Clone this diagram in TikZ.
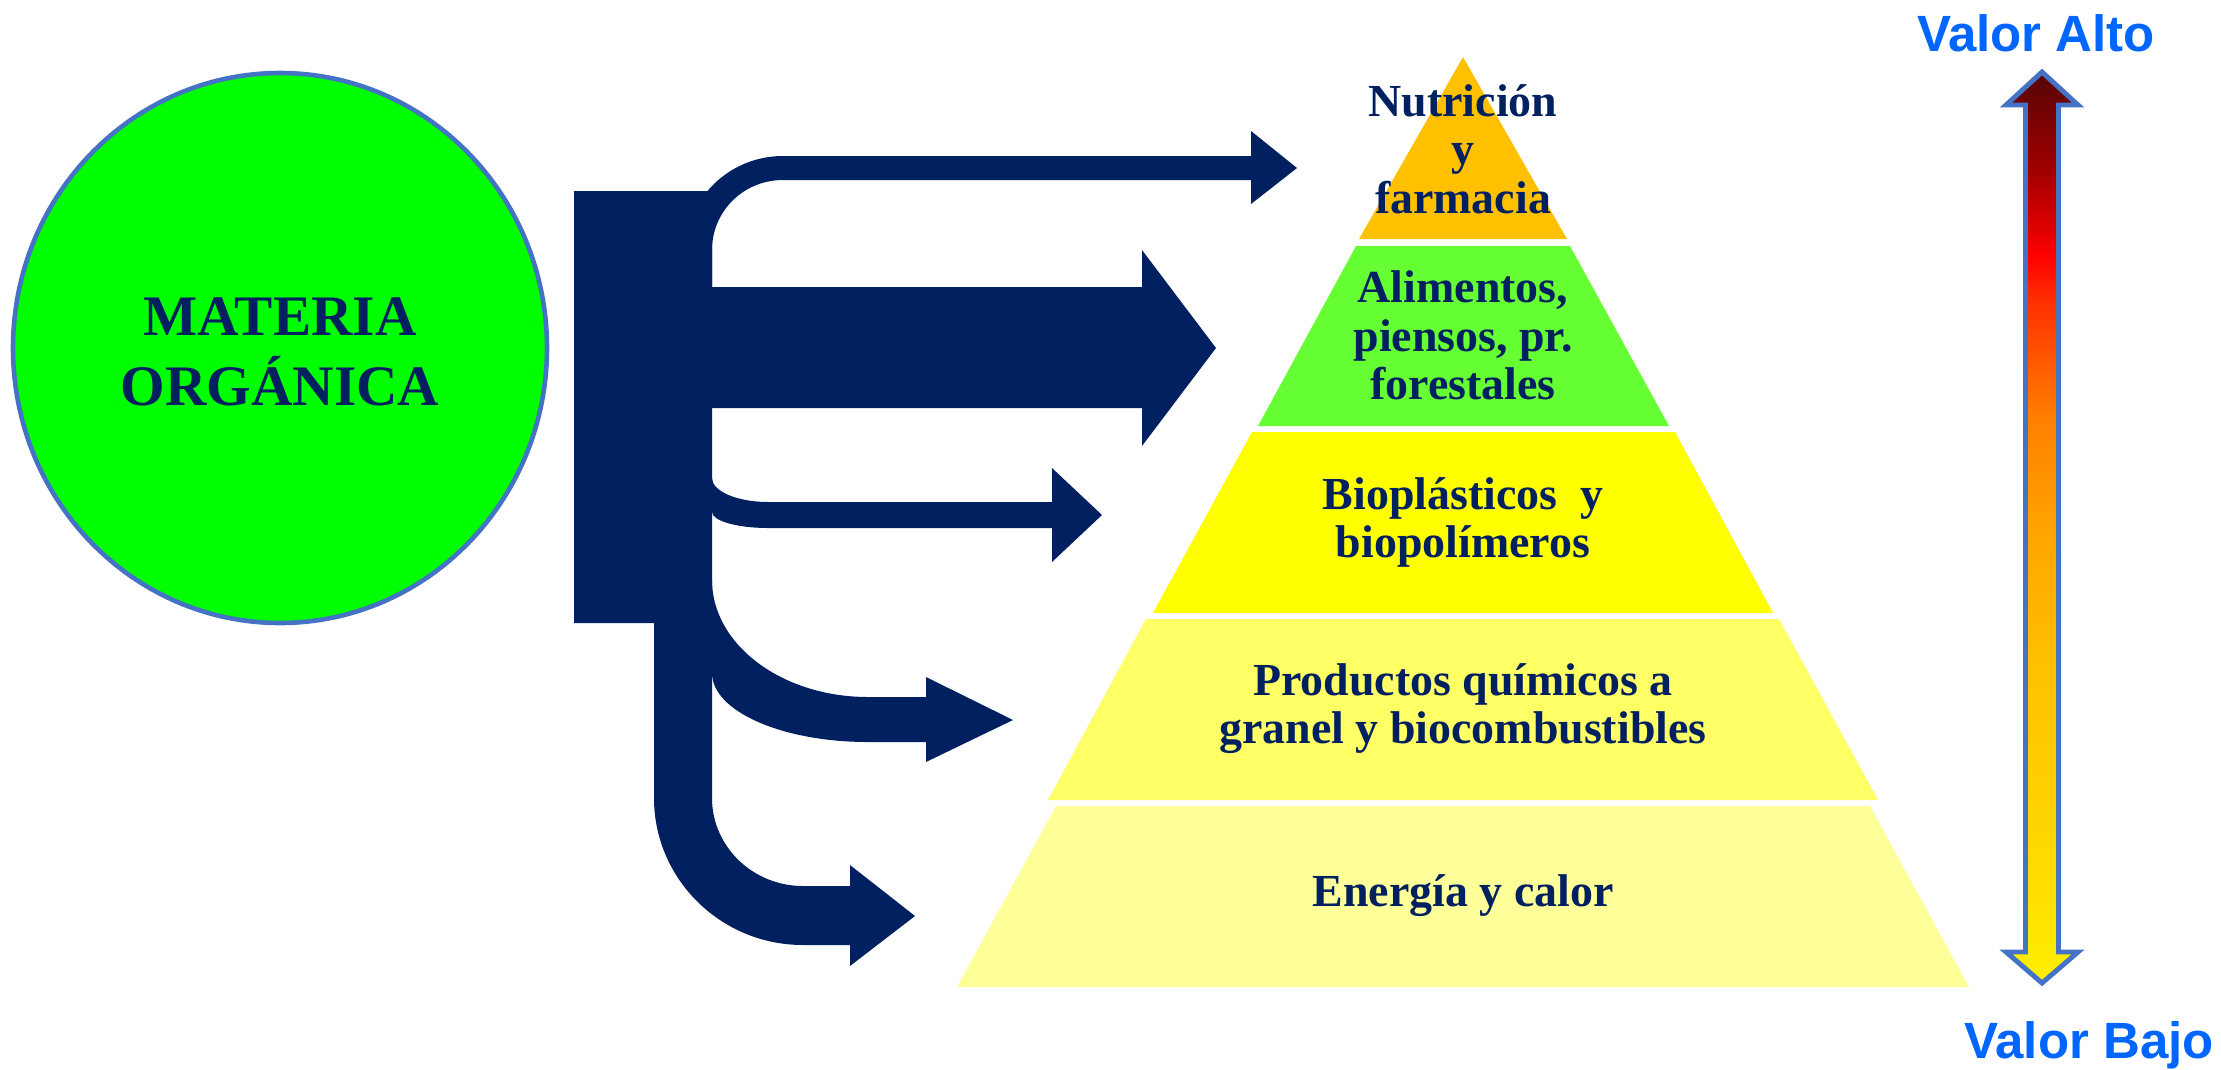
\documentclass[tikz,border=0pt]{standalone}
\usepackage{fontspec}
\setmainfont{Liberation Serif}
\newfontfamily\valorfont{Liberation Sans}
\usetikzlibrary{positioning}
\definecolor{navy}{HTML}{002060}
\definecolor{edgeblue}{HTML}{4472C4}
\definecolor{matgreen}{HTML}{00FF00}
\definecolor{tierA}{HTML}{FFC000}
\definecolor{tierB}{HTML}{66FF33}
\definecolor{tierC}{HTML}{FFFF00}
\definecolor{tierD}{HTML}{FFFF66}
\definecolor{tierE}{HTML}{FFFF99}
\definecolor{valorblue}{HTML}{0066FF}
\definecolor{vdark}{HTML}{560505}
\definecolor{vdeep}{HTML}{A00000}
\definecolor{vred}{HTML}{FF0000}
\definecolor{vscar}{HTML}{FF3000}
\definecolor{vorange}{HTML}{FF7F00}
\definecolor{vamber}{HTML}{FFA500}
\definecolor{vgold}{HTML}{FFC000}
\definecolor{vsun}{HTML}{FFCC00}
\definecolor{vlemon}{HTML}{FFDF00}
\definecolor{vyellow}{HTML}{FFF000}
\pgfdeclareverticalshading{valor}{100bp}{color(0bp)=(vyellow); color(25bp)=(vyellow); color(29.7bp)=(vlemon); color(37bp)=(vsun); color(42.4bp)=(vgold); color(49.7bp)=(vamber); color(56bp)=(vorange); color(62.4bp)=(vscar); color(64.9bp)=(vred); color(69.6bp)=(vdeep); color(75bp)=(vdark); color(100bp)=(vdark)}
\tikzstyle{flow}=[fill=navy]
\tikzstyle{materia}=[text=navy,font=\bfseries\fontsize{16.3}{19.8}\selectfont,align=center]
\tikzstyle{tiertext}=[text=navy,font=\bfseries\fontsize{13.05}{13.75}\selectfont,align=center]
\tikzstyle{valortext}=[text=valorblue,font=\valorfont\bfseries\fontsize{14.5}{17}\selectfont,anchor=base]
\tikzstyle{scale arrow}=[shading=valor,draw=edgeblue,line width=1.4pt,line join=miter]

\begin{document}
\begin{tikzpicture}[x=0.01cm,y=-0.01cm,node distance=1.865cm]
    \useasboundingbox (0,0) rectangle (2221,1069);
    \draw[fill=matgreen,draw=edgeblue,line width=1.3pt] (280,348) ellipse [x radius=267,y radius=275];
    \node[materia] (mo) at (280,352) {MATERIA\\ORGÁNICA};
    \fill[flow] (574,191) -- (712,191) -- (712,798)
        .. controls (712,846.6) and (752.8,886) .. (803,886) -- (850,886) -- (850,865) -- (915,916)
        -- (850,966) -- (850,945) -- (803,945)
        .. controls (720.8,945) and (654,879.1) .. (654,798) -- (654,623) -- (574,623) -- cycle;
    \fill[flow] (712,300) -- (712,250) .. controls (712,211.4) and (743.3,180) .. (783,180)
        -- (1251,180) -- (1251,204) -- (1297,168) -- (1251,131) -- (1251,156) -- (783,156)
        .. controls (729.5,156) and (686,198.1) .. (686,250) -- (686,300) -- cycle;
    \fill[flow] (700,287) -- (1142,287) -- (1142,250) -- (1216,348) -- (1142,446) -- (1142,408) -- (700,408) -- cycle;
    \fill[flow] (700,478) -- (712,478) .. controls (712,491.2) and (737.1,502) .. (768,502)
        -- (1052,502) -- (1052,468) -- (1102,515) -- (1052,562) -- (1052,528) -- (768,528)
        .. controls (737.1,528) and (712,520.8) .. (712,512) -- (700,512) -- cycle;
    \fill[flow] (700,580) -- (712,580) .. controls (712,644.6) and (781.9,697) .. (868,697)
        -- (926,697) -- (926,677) -- (1013,720) -- (926,762) -- (926,742) -- (868,742)
        .. controls (781.9,742) and (712,711.1) .. (712,673) -- (700,673) -- cycle;
    \fill[tierA] (1463,57) -- (1567,239) -- (1359,239) -- cycle;
    \fill[tierB] (1356,246) -- (1570,246) -- (1669,426) -- (1258,426) -- cycle;
    \fill[tierC] (1252,432) -- (1675,432) -- (1773,613) -- (1153,613) -- cycle;
    \fill[tierD] (1146,619) -- (1779,619) -- (1878,800) -- (1048,800) -- cycle;
    \fill[tierE] (1056,806) -- (1870,806) -- (1969,987) -- (957,987) -- cycle;
    \node[tiertext] (nut) at (1463,149) {Nutrición\\y\\farmacia};
    \node[tiertext, below of=nut] (ali) {Alimentos,\\piensos, pr.\\forestales};
    \node[tiertext, below of=ali] (bio) {Bioplásticos\ \ y\\biopolímeros};
    \node[tiertext, below of=bio] (quim) {Productos químicos a\\granel y biocombustibles};
    \node[tiertext, below of=quim] (ener) {Energía y calor};
    \draw[scale arrow] (2042,72) -- (2078,105) -- (2058.5,105) -- (2058.5,952) -- (2078,952) -- (2042,983)
        -- (2006,952) -- (2025.5,952) -- (2025.5,105) -- (2006,105) -- cycle;
    \node[valortext] (alto) at (2036,51) {Valor Alto};
    \node[valortext] (bajo) at (2089,1058) {Valor Bajo};
\end{tikzpicture}
\end{document}
